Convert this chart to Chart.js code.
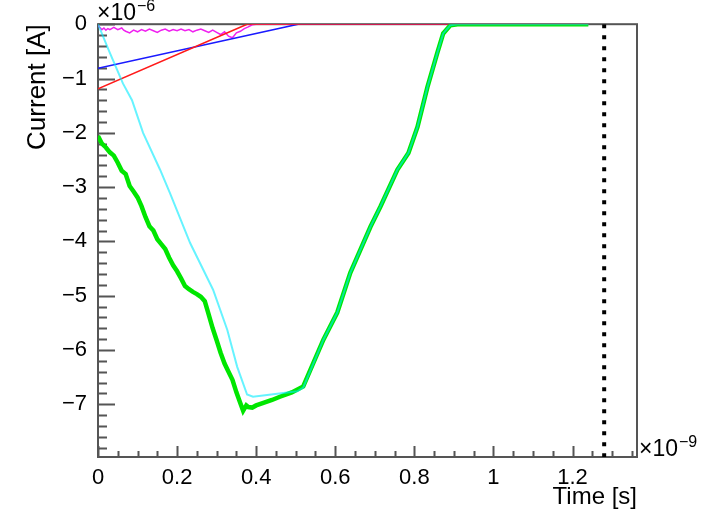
<!DOCTYPE html>
<html>
<head>
<meta charset="utf-8">
<script src="https://cdn.jsdelivr.net/npm/chart.js@4.4.0/dist/chart.umd.min.js"></script>
<style>
  html, body { margin: 0; padding: 0; background: #fff; }
  canvas { display: block; }
</style>
</head>
<body>
<canvas id="currentChart" width="707" height="516"></canvas>
<script>
// Time in ns (axis shows x1e-9), current in uA (axis shows x1e-6)

// green: thick, noisy descent then linear recovery
const greenTime = [0, 0.01, 0.02, 0.03, 0.04, 0.05, 0.06, 0.07, 0.08, 0.09, 0.10, 0.11, 0.12, 0.13, 0.14, 0.15,
    0.16, 0.17, 0.18, 0.19, 0.20, 0.21, 0.22, 0.23, 0.24, 0.25, 0.26, 0.27, 0.28, 0.29, 0.30, 0.31, 0.32, 0.33,
    0.34, 0.35, 0.36, 0.367, 0.375, 0.38, 0.39, 0.40, 0.42, 0.44, 0.46, 0.49, 0.519,
    0.57, 0.605, 0.638, 0.689, 0.714, 0.757, 0.785, 0.808, 0.833, 0.858, 0.873, 0.891, 0.909, 1.24];
const greenCurrent = [-2.06, -2.20, -2.27, -2.36, -2.42, -2.55, -2.70, -2.76, -2.98, -3.08, -3.19, -3.35, -3.55, -3.72, -3.80, -3.96,
    -4.05, -4.14, -4.30, -4.44, -4.55, -4.68, -4.82, -4.88, -4.93, -4.97, -5.02, -5.10, -5.35, -5.60, -5.82, -6.05, -6.25, -6.40,
    -6.55, -6.78, -6.98, -7.12, -7.02, -7.05, -7.06, -7.02, -6.97, -6.92, -6.86, -6.78, -6.67,
    -5.81, -5.31, -4.58, -3.73, -3.36, -2.68, -2.37, -1.89, -1.16, -0.53, -0.17, -0.02, 0, 0];

// cyan: thin, starts at 0 and joins the green curve at ~0.52
const cyanTime = [0, 0.03, 0.063, 0.086, 0.114, 0.157, 0.182, 0.233, 0.291, 0.327, 0.352, 0.377, 0.392, 0.504, 0.519,
    0.57, 0.605, 0.638, 0.689, 0.714, 0.757, 0.785, 0.808, 0.833, 0.858, 0.873, 0.891, 0.909, 1.24];
const cyanCurrent = [0, -0.53, -1.09, -1.40, -2.00, -2.68, -3.11, -4.03, -4.89, -5.63, -6.31, -6.82, -6.86, -6.76, -6.69,
    -5.81, -5.31, -4.58, -3.73, -3.36, -2.68, -2.37, -1.89, -1.16, -0.53, -0.17, -0.02, 0, 0];

// red and blue: straight ramps up to zero
const redTime = [0, 0.377, 1.24];
const redCurrent = [-1.19, 0, 0];
const blueTime = [0, 0.506, 1.24];
const blueCurrent = [-0.81, 0, 0];

// magenta: small noise just below zero
const magentaTime = [0, 0.005, 0.01, 0.015, 0.02, 0.025, 0.03, 0.04, 0.05, 0.06, 0.065, 0.07, 0.08, 0.09, 0.10, 0.11,
    0.12, 0.13, 0.14, 0.15, 0.16, 0.17, 0.18, 0.19, 0.20, 0.21, 0.22, 0.23, 0.24, 0.25, 0.26, 0.27, 0.28, 0.29,
    0.30, 0.31, 0.32, 0.33, 0.34, 0.35, 0.36, 0.37, 0.38, 0.39, 0.40, 1.24];
const magentaCurrent = [-0.03, -0.06, -0.10, -0.07, -0.11, -0.08, -0.10, -0.06, -0.10, -0.07, -0.11, -0.13, -0.16, -0.11, -0.14, -0.10,
    -0.13, -0.09, -0.12, -0.15, -0.11, -0.09, -0.13, -0.10, -0.12, -0.09, -0.12, -0.10, -0.14, -0.11, -0.09, -0.12, -0.15, -0.11,
    -0.15, -0.19, -0.14, -0.22, -0.25, -0.16, -0.13, -0.08, -0.05, -0.01, 0, 0];

// dotted vertical marker
const markerTime = [1.28, 1.28];
const markerCurrent = [0, -7.97];

// axes
const xMin = 0, xMax = 1.363;
const yMin = -7.97, yMax = 0;
const xTicks = [0, 0.2, 0.4, 0.6, 0.8, 1.0, 1.2];
const yTicks = [0, -1, -2, -3, -4, -5, -6, -7];

const FONT = "'Liberation Sans', Arial, Helvetica, sans-serif";

function toPoints(xs, ys) {
    return xs.map((x, i) => ({ x: x, y: ys[i] }));
}

function lineSet(xs, ys, color, width) {
    return {
        data: toPoints(xs, ys),
        borderColor: color,
        borderWidth: width,
        showLine: true,
        pointRadius: 0,
        tension: 0,
        fill: false
    };
}

// ROOT-like frame, inward ticks and exponent labels
const rootFrame = {
    id: "rootFrame",
    beforeDatasetsDraw(chart) {
        const { ctx, chartArea: a, scales: { x, y } } = chart;
        ctx.save();
        ctx.strokeStyle = "#555";
        ctx.lineWidth = 2;
        ctx.strokeRect(a.left, a.top, a.right - a.left, a.bottom - a.top);

        ctx.beginPath();
        // y: major every 1, minor every 0.2
        for (let k = 0; ; k++) {
            const v = -k * 0.2;
            if (v < y.min) break;
            const py = Math.round(y.getPixelForValue(v)) + 0.5;
            const len = k % 5 === 0 ? 17 : 9;
            ctx.moveTo(a.left, py);
            ctx.lineTo(a.left + len, py);
        }
        // x: major every 0.2, minor every 0.05
        for (let k = 0; ; k++) {
            const v = k * 0.05;
            if (v > x.max) break;
            const px = Math.round(x.getPixelForValue(v)) + 0.5;
            const len = k % 4 === 0 ? 11 : 6;
            ctx.moveTo(px, a.bottom);
            ctx.lineTo(px, a.bottom - len);
        }
        ctx.stroke();
        ctx.restore();
    },
    afterDraw(chart) {
        const { ctx, chartArea: a } = chart;
        ctx.save();
        ctx.fillStyle = "#000";
        ctx.textBaseline = "alphabetic";
        ctx.textAlign = "left";

        // x10^-6 above the y axis
        ctx.font = "23px " + FONT;
        ctx.fillText("\u00d710", a.left - 1, 20);
        let w = ctx.measureText("\u00d710").width;
        ctx.font = "16px " + FONT;
        ctx.fillText("\u22126", a.left + w, 11);

        // x10^-9 at the end of the x axis
        ctx.font = "23px " + FONT;
        ctx.fillText("\u00d710", a.right + 2, a.bottom - 1);
        w = ctx.measureText("\u00d710").width;
        ctx.font = "16px " + FONT;
        ctx.fillText("\u22129", a.right + 3 + w, a.bottom - 10);
        ctx.restore();
    }
};

const ctx = document.getElementById("currentChart").getContext("2d");

const markerSet = lineSet(markerTime, markerCurrent, "#000", 4);
markerSet.borderDash = [4, 7];
markerSet.borderCapStyle = "butt";

new Chart(ctx, {
    type: "scatter",
    data: {
        datasets: [
            lineSet(cyanTime, cyanCurrent, "rgba(0, 235, 255, 0.6)", 2),
            lineSet(greenTime, greenCurrent, "rgb(0, 230, 0)", 4.5),
            lineSet(redTime, redCurrent, "#ff1a1a", 1.5),
            lineSet(blueTime, blueCurrent, "#1a1aff", 1.5),
            lineSet(magentaTime, magentaCurrent, "#f020f0", 1.5),
            markerSet
        ]
    },
    options: {
        responsive: false,
        animation: false,
        devicePixelRatio: 1,
        layout: {
            padding: { left: 0, top: 24, right: 70, bottom: 0 }
        },
        plugins: {
            legend: { display: false },
            tooltip: { enabled: false }
        },
        scales: {
            x: {
                type: "linear",
                min: xMin,
                max: xMax,
                grid: { display: false, drawTicks: false },
                border: { display: false },
                afterFit: (scale) => { scale.height = 59; },
                afterBuildTicks: (scale) => { scale.ticks = xTicks.map(v => ({ value: v })); },
                ticks: {
                    autoSkip: false,
                    maxRotation: 0,
                    padding: 8,
                    color: "#000",
                    font: { family: FONT, size: 22 },
                    callback: (v) => String(Math.round(v * 10) / 10)
                },
                title: {
                    display: true,
                    text: "Time [s]",
                    align: "end",
                    color: "#000",
                    font: { family: FONT, size: 24 },
                    padding: { top: 0, bottom: 4 }
                }
            },
            y: {
                type: "linear",
                min: yMin,
                max: yMax,
                grid: { display: false, drawTicks: false },
                border: { display: false },
                afterFit: (scale) => { scale.width = 98; },
                afterBuildTicks: (scale) => { scale.ticks = yTicks.map(v => ({ value: v })); },
                ticks: {
                    autoSkip: false,
                    padding: 11,
                    color: "#000",
                    font: { family: FONT, size: 22 },
                    callback: (v) => v === 0 ? "0" : "\u2212" + Math.abs(v)
                },
                title: {
                    display: true,
                    text: "Current [A]",
                    align: "end",
                    color: "#000",
                    font: { family: FONT, size: 26 },
                    padding: { top: 22, bottom: 0 }
                }
            }
        }
    },
    plugins: [rootFrame]
});
</script>
</body>
</html>
